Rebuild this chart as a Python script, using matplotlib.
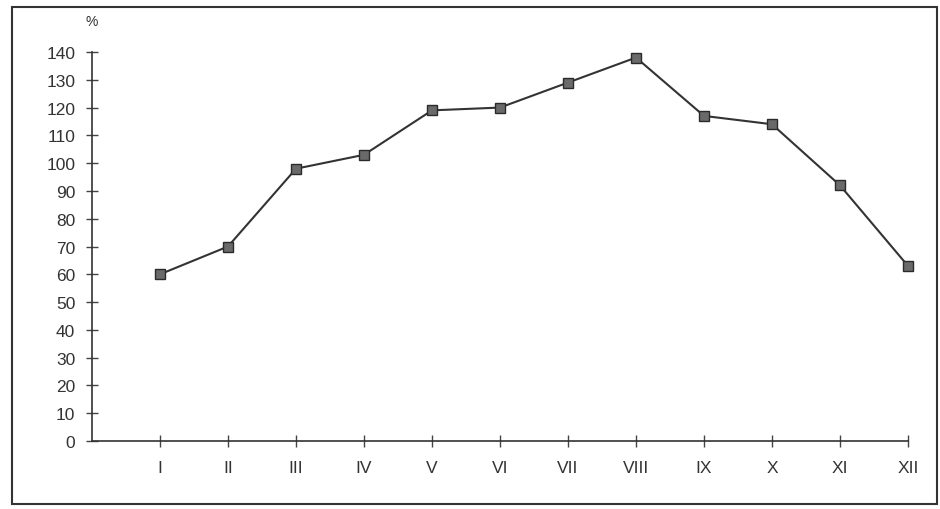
import matplotlib

matplotlib.use("Agg")
import matplotlib.pyplot as plt
from matplotlib.patches import Rectangle

plt.rcParams["font.family"] = ["Liberation Sans", "DejaVu Sans"]

months = ["I", "II", "III", "IV", "V", "VI", "VII", "VIII", "IX", "X", "XI", "XII"]
values = [60, 70, 98, 103, 119, 120, 129, 138, 117, 114, 92, 63]
yticks = list(range(0, 141, 10))

fig = plt.figure(figsize=(9.4, 5.1), dpi=100)
ax = fig.add_axes([92 / 940, 1 - 442 / 510, (908 - 92) / 940, (442 - 53) / 510])

x = list(range(1, len(months) + 1))
ax.plot(x, values, color="#333333", lw=1.5, marker="s", markersize=7,
        markerfacecolor="#6a6a6a", markeredgecolor="#2a2a2a", markeredgewidth=1.0,
        clip_on=False)

ax.set_xlim(0, 12)
ax.set_ylim(0, 140)
ax.set_xticks(x, months)
ax.set_yticks(yticks)
ax.tick_params(axis="both", direction="inout", length=8, width=1, color="#444444",
               labelsize=12.5, labelcolor="#333333")
ax.tick_params(axis="x", pad=10)
ax.tick_params(axis="y", pad=8)
for s in ["top", "right"]:
    ax.spines[s].set_visible(False)
for s in ["left", "bottom"]:
    ax.spines[s].set_color("#333333")
    ax.spines[s].set_linewidth(1.2)

fig.text(92 / 940, 1 - 22 / 510, "%", ha="center", va="center", fontsize=10, color="#333333")

fig.patches.append(Rectangle((12 / 940, 1 - 505 / 510), (937 - 12) / 940, (505 - 8) / 510,
                             transform=fig.transFigure, fill=False, edgecolor="#333333",
                             lw=1.5))

fig.savefig("out.png", dpi=100)
